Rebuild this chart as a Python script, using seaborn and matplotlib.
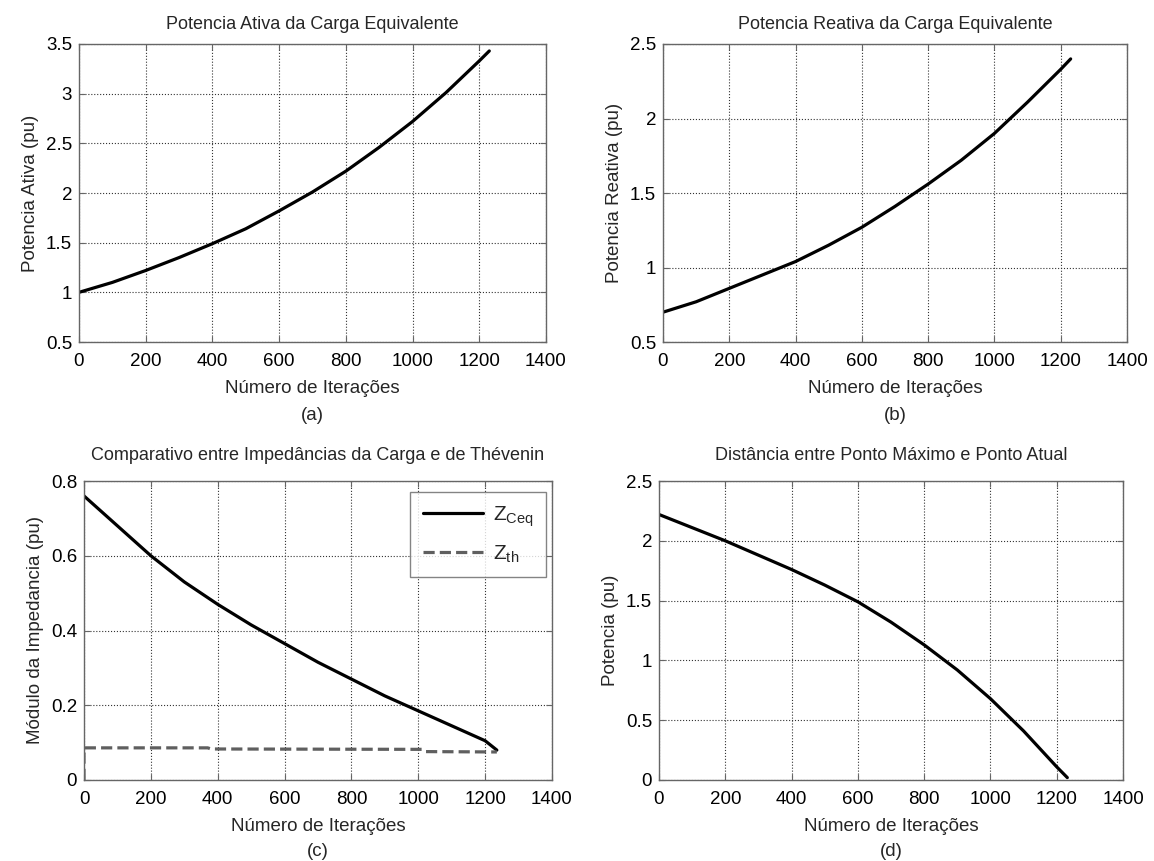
import numpy as np
import pandas as pd
import matplotlib
matplotlib.use("Agg")
import matplotlib.pyplot as plt
import seaborn as sns

# ---- data ----
iters = [0, 100, 200, 300, 400, 500, 600, 700, 800, 900, 1000, 1100, 1200, 1230]
p_ativa = [1.00, 1.10, 1.22, 1.35, 1.49, 1.64, 1.82, 2.01, 2.22, 2.46, 2.72, 3.01, 3.33, 3.43]
q_reativa = [0.70, 0.77, 0.86, 0.95, 1.04, 1.15, 1.27, 1.41, 1.56, 1.72, 1.90, 2.11, 2.33, 2.40]

iters_z = [0, 100, 200, 300, 400, 500, 600, 700, 800, 900, 1000, 1100, 1150, 1200, 1235]
z_ceq = [0.76, 0.68, 0.60, 0.53, 0.47, 0.415, 0.365, 0.315, 0.27, 0.225, 0.185, 0.145, 0.125, 0.105, 0.08]
iters_th = [0, 0, 5, 370, 380, 1010, 1020, 1235]
z_th = [0.0, 0.085, 0.086, 0.086, 0.083, 0.082, 0.076, 0.075]

iters_d = [0, 100, 200, 300, 400, 500, 600, 700, 800, 900, 1000, 1100, 1200, 1232]
dist = [2.22, 2.11, 2.00, 1.88, 1.76, 1.63, 1.49, 1.32, 1.13, 0.92, 0.68, 0.41, 0.11, 0.02]

titles = ["Potencia Ativa da Carga Equivalente",
          "Potencia Reativa da Carga Equivalente",
          "Comparativo entre Impedâncias da Carga e de Thévenin",
          "Distância entre Ponto Máximo e Ponto Atual"]
ylabels = ["Potencia Ativa (pu)", "Potencia Reativa (pu)",
           "Módulo da Impedancia (pu)", "Potencia (pu)"]
xlabel = "Número de Iterações"
sublabels = ["(a)", "(b)", "(c)", "(d)"]

sns.set_style("white")
plt.rcParams["font.family"] = ["Liberation Sans", "DejaVu Sans"]
plt.rcParams["mathtext.default"] = "regular"

W, H = 1154, 861
fig = plt.figure(figsize=(W / 100, H / 100), dpi=100)


def px_axes(left, right, top, bottom):
    return fig.add_axes([left / W, 1 - bottom / H, (right - left) / W, (bottom - top) / H])


axes = [
    px_axes(79, 546, 44, 342),
    px_axes(663, 1127, 44, 342),
    px_axes(84, 552, 481, 780),
    px_axes(659, 1123, 481, 780),
]

lw = 2.3
sns.lineplot(x=iters, y=p_ativa, ax=axes[0], color="black", lw=lw, sort=False, estimator=None)
sns.lineplot(x=iters, y=q_reativa, ax=axes[1], color="black", lw=lw, sort=False, estimator=None)
sns.lineplot(x=iters_z, y=z_ceq, ax=axes[2], color="black", lw=lw, sort=False, estimator=None,
             label=r"$Z_{Ceq}$")
sns.lineplot(x=iters_th, y=z_th, ax=axes[2], color="#5f5f5f", lw=lw, sort=False, estimator=None,
             linestyle=(0, (3.5, 1.6)), label=r"$Z_{th}$")
sns.lineplot(x=iters_d, y=dist, ax=axes[3], color="black", lw=lw, sort=False, estimator=None)

ylims = [(0.5, 3.5), (0.5, 2.5), (0, 0.8), (0, 2.5)]
yticks = [np.arange(0.5, 3.51, 0.5), np.arange(0.5, 2.51, 0.5),
          np.arange(0, 0.81, 0.2), np.arange(0, 2.51, 0.5)]
yticklabels = [["0.5", "1", "1.5", "2", "2.5", "3", "3.5"],
               ["0.5", "1", "1.5", "2", "2.5"],
               ["0", "0.2", "0.4", "0.6", "0.8"],
               ["0", "0.5", "1", "1.5", "2", "2.5"]]
title_pads = [11, 11, 15, 15]
sub_y = [415, 415, 851, 851]

for i, ax in enumerate(axes):
    ax.set_xlim(0, 1400)
    ax.set_ylim(*ylims[i])
    ax.set_xticks(range(0, 1401, 200))
    ax.set_yticks(yticks[i])
    ax.set_yticklabels(yticklabels[i])
    ax.grid(True, linestyle=":", color="#333333", linewidth=0.8)
    for s in ax.spines.values():
        s.set_color("#666666")
        s.set_linewidth(1.0)
    ax.tick_params(axis="both", labelsize=13.5, direction="in", length=4, width=0.8,
                   top=True, right=True, bottom=True, left=True,
                   color="#666666", labelcolor="black", pad=5)
    ax.tick_params(axis="x", pad=8)
    ax.set_title(titles[i], fontsize=13, pad=title_pads[i])
    ax.set_ylabel(ylabels[i], fontsize=13.5, labelpad=5)
    ax.set_xlabel(xlabel, fontsize=13.5, labelpad=7)
    bb = ax.get_position()
    fig.text(bb.x0 + bb.width / 2, 1 - sub_y[i] / H, sublabels[i], fontsize=13.5,
             ha="center", va="center")

leg = axes[2].legend(loc="upper right", fontsize=15, frameon=True, fancybox=False,
                     edgecolor="#666666", handlelength=2.9, borderpad=0.6,
                     labelspacing=0.7, handletextpad=0.45, borderaxespad=0.0,
                     bbox_to_anchor=(0.987, 0.963))
leg.get_frame().set_linewidth(1.0)

fig.savefig("out.png", dpi=100, facecolor="white")
